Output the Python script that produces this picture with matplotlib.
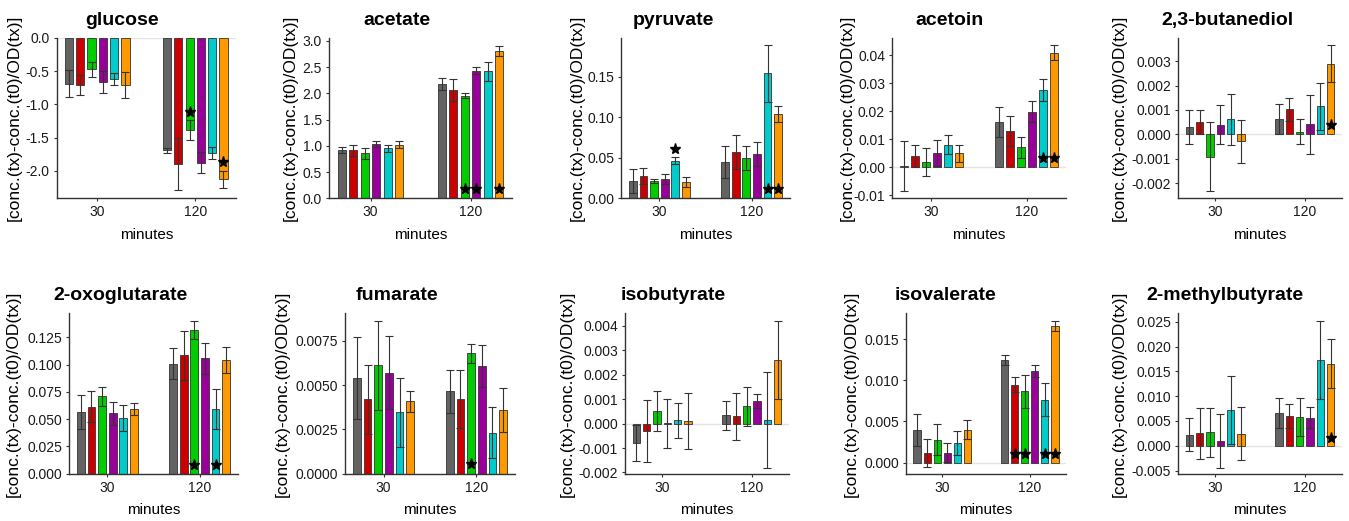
"""Metabolite changes per strain at 30 and 120 minutes: 2 x 5 bar panels."""
import matplotlib

matplotlib.use("Agg")
import matplotlib.pyplot as plt
import numpy as np
from matplotlib.ticker import FixedLocator, FormatStrFormatter

plt.rcParams["font.family"] = ["Liberation Sans", "DejaVu Sans"]
plt.rcParams["axes.unicode_minus"] = False

# ---- data (mean / sd per time point, six strains each) ----
minutes = ["30", "120"]
colors = ["#636363", "#CC0000", "#00CC00", "#990099", "#00CCCC", "#FF9900"]

glucose_mean = [[-0.69, -0.71, -0.475, -0.665, -0.625, -0.71],
                [-1.69, -1.90, -1.385, -1.875, -1.735, -2.125]]
glucose_sd = [[0.205, 0.145, 0.11, 0.16, 0.09, 0.19],
              [0.04, 0.39, 0.15, 0.16, 0.09, 0.125]]
glucose_stars = [(1, 2, -1.11), (1, 5, -1.86)]

acetate_mean = [[0.925, 0.915, 0.86, 1.03, 0.95, 1.02],
                [2.18, 2.06, 1.955, 2.435, 2.42, 2.815]]
acetate_sd = [[0.055, 0.11, 0.105, 0.055, 0.065, 0.065],
              [0.12, 0.215, 0.045, 0.075, 0.18, 0.095]]
acetate_stars = [(1, 2, 0.18), (1, 3, 0.18), (1, 5, 0.18)]

pyruvate_mean = [[0.0214, 0.0275, 0.021, 0.0234, 0.0464, 0.0205],
                 [0.0448, 0.0575, 0.050, 0.0547, 0.154, 0.1044]]
pyruvate_sd = [[0.0148, 0.0095, 0.0025, 0.006, 0.004, 0.006],
               [0.020, 0.021, 0.015, 0.0144, 0.0355, 0.0099]]
pyruvate_stars = [(0, 4, 0.061), (1, 4, 0.0115), (1, 5, 0.0115)]

acetoin_mean = [[0.0004, 0.0042, 0.0018, 0.005, 0.0081, 0.005],
                [0.0162, 0.013, 0.0071, 0.0198, 0.0276, 0.0409]]
acetoin_sd = [[0.0089, 0.0039, 0.005, 0.0046, 0.0033, 0.0031],
              [0.0052, 0.0054, 0.0038, 0.0037, 0.0038, 0.0028]]
acetoin_stars = [(1, 4, 0.0032), (1, 5, 0.0032)]

butanediol_mean = [[0.00031, 0.00052, -0.00091, 0.0004, 0.00061, -0.00029],
                   [0.00064, 0.00102, 0.00011, 0.00041, 0.00115, 0.00289]]
butanediol_sd = [[0.0007, 0.00049, 0.0014, 0.0008, 0.00104, 0.00087],
                 [0.00061, 0.00047, 0.00052, 0.0012, 0.00096, 0.00076]]
butanediol_stars = [(1, 5, 0.00037)]

oxoglutarate_mean = [[0.0565, 0.0614, 0.0709, 0.0553, 0.051, 0.0596],
                     [0.1009, 0.1085, 0.1314, 0.1057, 0.0596, 0.1045]]
oxoglutarate_sd = [[0.0153, 0.0144, 0.0086, 0.0104, 0.012, 0.0055],
                   [0.0143, 0.0223, 0.0083, 0.0141, 0.0183, 0.0119]]
oxoglutarate_stars = [(1, 2, 0.0083), (1, 4, 0.0083)]

fumarate_mean = [[0.00541, 0.0042, 0.00612, 0.00571, 0.00347, 0.00409],
                 [0.00465, 0.00424, 0.0068, 0.00609, 0.00232, 0.0036]]
fumarate_sd = [[0.00233, 0.00196, 0.0025, 0.00205, 0.00196, 0.0006],
               [0.00123, 0.00164, 0.00055, 0.0012, 0.00145, 0.00126]]
fumarate_stars = [(1, 2, 0.00055)]

isobutyrate_mean = [[-0.00079, -0.0003, 0.00052, 0.00001, 0.00014, 0.00011],
                    [0.00034, 0.00029, 0.0007, 0.00092, 0.00015, 0.00261]]
isobutyrate_sd = [[0.00074, 0.00127, 0.00082, 0.00099, 0.00071, 0.00115],
                  [0.00059, 0.00098, 0.00078, 0.00027, 0.00195, 0.0016]]
isobutyrate_stars = []

isovalerate_mean = [[0.00401, 0.00118, 0.0028, 0.00122, 0.00235, 0.00401],
                    [0.01245, 0.00945, 0.00864, 0.01111, 0.00766, 0.01659]]
isovalerate_sd = [[0.00195, 0.0017, 0.0019, 0.00117, 0.00146, 0.00114],
                  [0.00065, 0.00089, 0.00202, 0.00073, 0.00195, 0.00064]]
isovalerate_stars = [(1, 1, 0.0011), (1, 2, 0.0011), (1, 4, 0.0011), (1, 5, 0.0011)]

methylbutyrate_mean = [[0.00224, 0.00251, 0.00271, 0.00095, 0.00718, 0.00244],
                       [0.00657, 0.00603, 0.00576, 0.00569, 0.01728, 0.01653]]
methylbutyrate_sd = [[0.0033, 0.0052, 0.0049, 0.0055, 0.0068, 0.0053],
                     [0.003, 0.0024, 0.0038, 0.0022, 0.0079, 0.0049]]
methylbutyrate_stars = [(1, 5, 0.00163)]

# (title, mean, sd, stars, y ticks, decimals, y limits)
panels = [
    ("glucose", glucose_mean, glucose_sd, glucose_stars,
     [-2.0, -1.5, -1.0, -0.5, 0.0], 1, (-2.41, 0.0)),
    ("acetate", acetate_mean, acetate_sd, acetate_stars,
     [0.0, 0.5, 1.0, 1.5, 2.0, 2.5, 3.0], 1, (0.0, 3.06)),
    ("pyruvate", pyruvate_mean, pyruvate_sd, pyruvate_stars,
     [0.0, 0.05, 0.10, 0.15], 2, (0.0, 0.198)),
    ("acetoin", acetoin_mean, acetoin_sd, acetoin_stars,
     [-0.01, 0.0, 0.01, 0.02, 0.03, 0.04], 2, (-0.011, 0.0462)),
    ("2,3-butanediol", butanediol_mean, butanediol_sd, butanediol_stars,
     [-0.002, -0.001, 0.0, 0.001, 0.002, 0.003], 3, (-0.00262, 0.00396)),
    ("2-oxoglutarate", oxoglutarate_mean, oxoglutarate_sd, oxoglutarate_stars,
     [0.0, 0.025, 0.05, 0.075, 0.1, 0.125], 3, (0.0, 0.147)),
    ("fumarate", fumarate_mean, fumarate_sd, fumarate_stars,
     [0.0, 0.0025, 0.005, 0.0075], 4, (0.0, 0.00906)),
    ("isobutyrate", isobutyrate_mean, isobutyrate_sd, isobutyrate_stars,
     [-0.002, -0.001, 0.0, 0.001, 0.002, 0.003, 0.004], 3, (-0.00205, 0.00451)),
    ("isovalerate", isovalerate_mean, isovalerate_sd, isovalerate_stars,
     [0.0, 0.005, 0.010, 0.015], 3, (-0.00134, 0.01813)),
    ("2-methylbutyrate", methylbutyrate_mean, methylbutyrate_sd, methylbutyrate_stars,
     [-0.005, 0.0, 0.005, 0.010, 0.015, 0.020, 0.025], 3, (-0.00562, 0.0267)),
]

# ---- layout in pixels ----
W, H = 1349, 521
row_top = [37.7, 313.3]
row_bottom = [198.3, 473.7]
lefts = [56.5, 329, 621, 892, 1178, 69, 345, 625, 906, 1178]
rights = [236, 512, 790, 1066, 1342, 238, 515, 789, 1066, 1342]
ylabel_x = [14, 290, 577, 847, 1119, 13, 282, 567.5, 851, 1119]
title_x = [122, 397, 673, 950, 1227, 121, 397, 673, 946, 1225]
title_y = [25, 300]

pitch = 0.115
bar_w = 0.084
dark = "#333333"

fig = plt.figure(figsize=(W / 100, H / 100), dpi=100)

for i, (name, mean, sd, stars, ticks, dec, ylim) in enumerate(panels):
    row = i // 5
    l, r = lefts[i], rights[i]
    t, b = row_top[row], row_bottom[row]
    ax = fig.add_axes([l / W, 1 - b / H, (r - l) / W, (b - t) / H])

    centers = np.arange(len(minutes)) + 1
    ax.axhline(0, color="#e4e4e4", lw=1.0, zorder=1)
    for j, c in enumerate(colors):
        xs = centers + (j - 2.5) * pitch
        m = [mean[k][j] for k in range(len(minutes))]
        s = [sd[k][j] for k in range(len(minutes))]
        ax.bar(xs, m, bar_w, color=c, edgecolor=dark, linewidth=0.6, zorder=2)
        ax.errorbar(xs, m, yerr=s, fmt="none", ecolor=dark, elinewidth=0.8,
                    capsize=2.6, capthick=0.8, zorder=3)
    for k, j, y in stars:
        ax.plot(centers[k] + (j - 2.5) * pitch, y, marker="*", color="black",
                markersize=8, linestyle="none", zorder=4)

    ax.set_xlim(0.585, 2.415)
    ax.set_ylim(*ylim)
    ax.set_xticks(centers)
    ax.set_xticklabels(minutes)
    ax.yaxis.set_major_locator(FixedLocator(ticks))
    ax.yaxis.set_major_formatter(FormatStrFormatter(f"%.{dec}f"))
    ax.tick_params(axis="both", labelsize=10, length=2.5, width=0.8,
                   color=dark, labelcolor="#1a1a1a", pad=2.5)

    for side in ("top", "right"):
        ax.spines[side].set_visible(False)
    for side in ("left", "bottom"):
        ax.spines[side].set_color(dark)
        ax.spines[side].set_linewidth(1.0)
        ax.spines[side].set_zorder(5)

    ax.set_xlabel("minutes", fontsize=11, labelpad=6)
    ax.set_ylabel("[conc.(tx)-conc.(t0)/OD(tx)]", fontsize=12.5, va="center")
    ax.yaxis.set_label_coords((ylabel_x[i] - l) / (r - l), 0.5)

    fig.text(title_x[i] / W, 1 - title_y[row] / H, name, ha="center",
             va="baseline", fontsize=14, fontweight="bold")

fig.savefig("out.png", dpi=100)
